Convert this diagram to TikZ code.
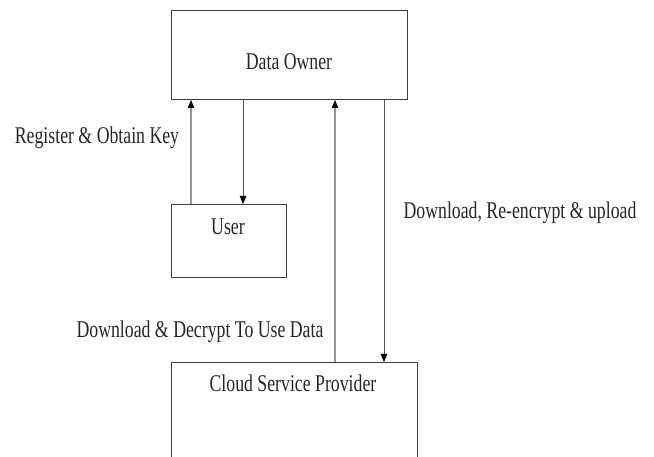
\documentclass[tikz,border=0pt]{standalone}
\usepackage{fontspec}
\setmainfont[FakeStretch=0.74]{Liberation Serif}
\usetikzlibrary{arrows.meta}
\begin{document}
\begin{tikzpicture}[x=1pt,y=-1pt,
  box/.style={draw=black!75,line width=1pt,inner sep=0pt,anchor=north west},
  txt/.style={inner sep=0pt,text=black!85,font=\fontsize{24}{28}\selectfont},
  arr/.style={draw=black!65,line width=0.9pt,-{Triangle[length=8pt,width=6.5pt,color=black,line width=0.5pt]}},
  arrup/.style={arr,draw=black!40,line width=1.4pt}]
\useasboundingbox (0,0) rectangle (654,457);
\clip (0,0) rectangle (654,457);
\node[box,minimum width=236pt,minimum height=89pt] (do) at (171,10) {};
\node[txt] (dot) at (289,62) {Data Owner};
\node[box,minimum width=115pt,minimum height=73pt] (user) at (171,204) {};
\node[txt] (usert) at (228,227) {User};
\node[box,minimum width=246pt,minimum height=120pt] (csp) at (171,362) {};
\node[txt] (cspt) at (293,383) {Cloud Service Provider};
\coordinate (c1) at (191,0);
\coordinate (c2) at (243,0);
\coordinate (c3) at (335,0);
\coordinate (c4) at (384,0);
\draw[arrup] (user.north -| c1) -- (do.south -| c1);
\draw[arr] (do.south -| c2) -- (user.north -| c2);
\draw[arrup] (csp.north -| c3) -- (do.south -| c3);
\draw[arr] (do.south -| c4) -- (csp.north -| c4);
\node[txt] (l1) at (97,138) {Register \& Obtain Key};
\node[txt] (l2) at (520,213) {Download, Re-encrypt \& upload};
\node[txt] (l3) at (200,332) {Download \& Decrypt To Use Data};
\end{tikzpicture}
\end{document}
